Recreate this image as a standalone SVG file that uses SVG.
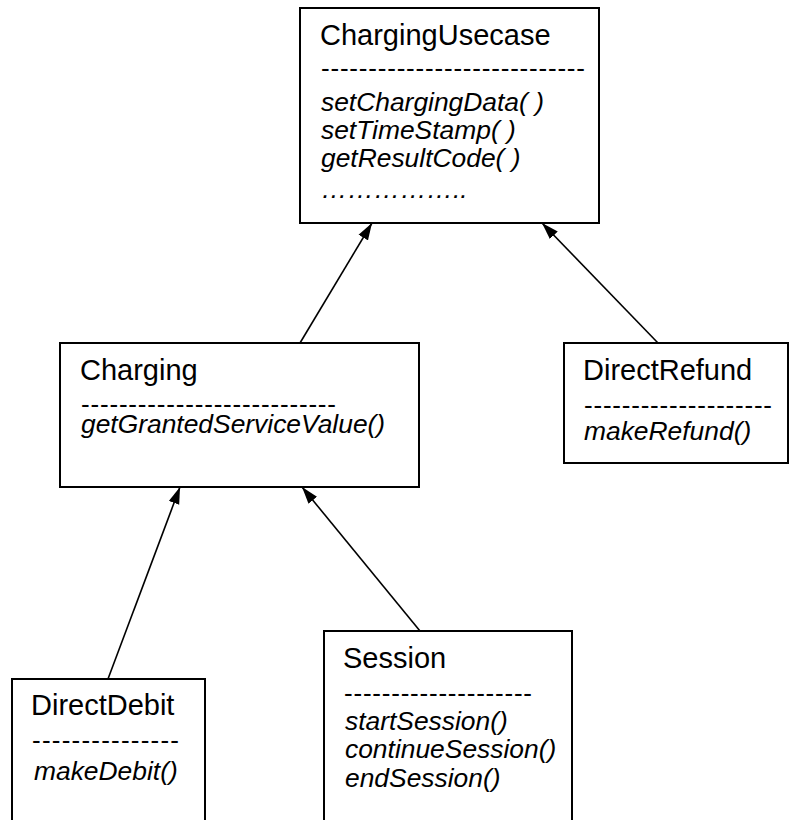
<svg xmlns="http://www.w3.org/2000/svg" width="797" height="820" viewBox="0 0 797 820">
  <style>
    .box { fill: #ffffff; stroke: #000000; stroke-width: 2; }
    .title { font-family: "Liberation Sans", Arial, sans-serif; font-size: 29px; fill: #000000; }
    .sep { font-family: "Liberation Sans", Arial, sans-serif; font-size: 26px; fill: #000000; }
    .op { font-family: "Liberation Sans", Arial, sans-serif; font-size: 26.4px; font-style: italic; fill: #000000; }
    .link { stroke: #000000; stroke-width: 1.6; fill: none; marker-end: url(#head); }
  </style>
  <defs>
    <marker id="head" markerUnits="userSpaceOnUse" markerWidth="18" markerHeight="12" refX="17" refY="6" orient="auto">
      <path d="M0,0.5 L17,6 L0,11.5 z" fill="#000000"/>
    </marker>
  </defs>
  <rect width="797" height="820" fill="#ffffff"/>

  <!-- inheritance connectors -->
  <g id="connectors">
    <line class="link" x1="300" y1="343" x2="372" y2="223"/>
    <line class="link" x1="658" y1="343" x2="542" y2="223"/>
    <line class="link" x1="108" y1="679" x2="180" y2="487"/>
    <line class="link" x1="420" y1="631" x2="302" y2="487"/>
  </g>

  <g id="ChargingUsecase">
    <rect class="box" x="300" y="8" width="299" height="215"/>
    <text class="title" x="320" y="45">ChargingUsecase</text>
    <text class="sep" x="321" y="77" textLength="264" lengthAdjust="spacing">----------------------------</text>
    <text class="op" x="321" y="111">setChargingData( )</text>
    <text class="op" x="321" y="139">setTimeStamp( )</text>
    <text class="op" x="321" y="167">getResultCode( )</text>
    <text class="op" x="321" y="198">……………..</text>
  </g>

  <g id="Charging">
    <rect class="box" x="60" y="343" width="359" height="144"/>
    <text class="title" x="80" y="380">Charging</text>
    <text class="sep" x="81" y="413" textLength="255" lengthAdjust="spacing">---------------------------</text>
    <text class="op" x="81" y="433">getGrantedServiceValue()</text>
  </g>

  <g id="DirectRefund">
    <rect class="box" x="564" y="343" width="224" height="120"/>
    <text class="title" x="583" y="380">DirectRefund</text>
    <text class="sep" x="584" y="414" textLength="188" lengthAdjust="spacing">--------------------</text>
    <text class="op" x="584" y="440">makeRefund()</text>
  </g>

  <g id="DirectDebit">
    <rect class="box" x="12" y="679" width="193" height="160"/>
    <text class="title" x="31" y="715">DirectDebit</text>
    <text class="sep" x="32" y="749" textLength="147" lengthAdjust="spacing">---------------</text>
    <text class="op" x="34" y="780">makeDebit()</text>
  </g>

  <g id="Session">
    <rect class="box" x="324" y="631" width="248" height="210"/>
    <text class="title" x="343" y="668">Session</text>
    <text class="sep" x="344" y="702" textLength="188" lengthAdjust="spacing">--------------------</text>
    <text class="op" x="345" y="730">startSession()</text>
    <text class="op" x="345" y="758">continueSession()</text>
    <text class="op" x="345" y="787">endSession()</text>
  </g>
</svg>
